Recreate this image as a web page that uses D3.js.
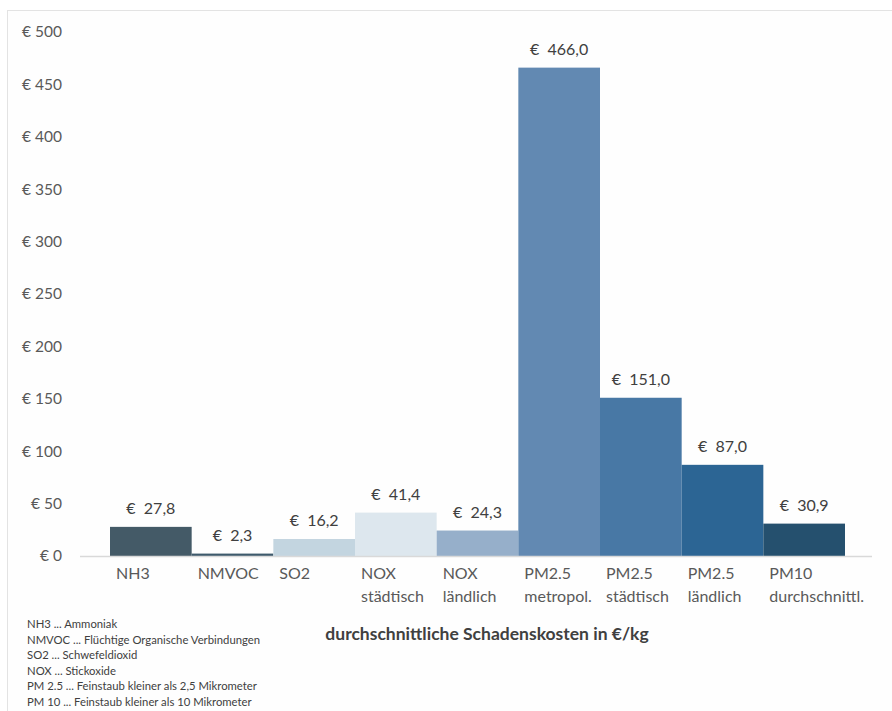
<!DOCTYPE html>
<html><head><meta charset="utf-8">
<script src="https://cdn.jsdelivr.net/npm/d3@7"></script>
<style>body{margin:0;background:#fff;} svg{display:block;font-family:Lato,"Open Sans",sans-serif;}</style>
</head><body>
<svg id="c" width="892" height="711"></svg>
<script>
const categories = [["NH3"],["NMVOC"],["SO2"],["NOX","städtisch"],["NOX","ländlich"],["PM2.5","metropol."],["PM2.5","städtisch"],["PM2.5","ländlich"],["PM10","durchschnittl."]];
const values = [27.8, 2.3, 16.2, 41.4, 24.3, 466.0, 151.0, 87.0, 30.9];
const colors = ["#445a67","#3e5a6c","#c3d5e0","#dde7ee","#96afca","#6289b2","#4878a5","#2c6594","#25506e"];
const yTicks = [0,50,100,150,200,250,300,350,400,450,500];
const footnotes = ["NH3 ... Ammoniak","NMVOC ... Flüchtige Organische Verbindungen","SO2 ... Schwefeldioxid","NOX ... Stickoxide","PM 2.5 ... Feinstaub kleiner als 2,5 Mikrometer","PM 10 ... Feinstaub kleiner als 10 Mikrometer"];
const title = "durchschnittliche Schadenskosten in €/kg";

const svg = d3.select("#c");
svg.append("rect").attr("x",7.5).attr("y",10.5).attr("width",892).attr("height",711).attr("fill","#fefefe").attr("stroke","#e3e3e3");

const idx = categories.map((d,i)=>i);
const x = d3.scaleBand().domain(idx).range([110,845]).padding(0);
const y = d3.scaleLinear().domain([0,500]).range([556,32]);

// y axis labels
const fmtY = d => "€ " + d;
svg.append("g").selectAll("text").data(yTicks).join("text")
  .attr("x",62).attr("y",d=>y(d)).attr("dy","0.35em")
  .attr("text-anchor","end").attr("font-size",15.5).attr("fill","#595959")
  .text(fmtY);

// bars
svg.append("g").selectAll("rect").data(values).join("rect")
  .attr("x",(d,i)=>x(i)).attr("width",x.bandwidth())
  .attr("y",d=>y(d)).attr("height",d=>y(0)-y(d))
  .attr("fill",(d,i)=>colors[i]);

// axis line
svg.append("line").attr("x1",80).attr("x2",872).attr("y1",y(0)+0.5).attr("y2",y(0)+0.5)
  .attr("stroke","#d9d9d9").attr("stroke-width",1.5);

// value labels
const fmtV = d => "€\u00a0\u00a0" + d.toFixed(1).replace(".",",");
svg.append("g").selectAll("text").data(values).join("text")
  .attr("x",(d,i)=>x(i)+x.bandwidth()/2).attr("y",d=>y(d)-13)
  .attr("text-anchor","middle").attr("font-size",16).attr("fill","#404040")
  .text(fmtV);

// category labels
const cg = svg.append("g").selectAll("text").data(categories).join("text")
  .attr("x",(d,i)=>x(i)+6).attr("y",579).attr("font-size",16).attr("fill","#595959");
cg.selectAll("tspan").data(d=>d).join("tspan")
  .attr("x",function(){return d3.select(this.parentNode).attr("x");})
  .attr("dy",(d,j)=>j?23:0).text(d=>d);

// title
svg.append("text").attr("x",487).attr("y",640).attr("text-anchor","middle")
  .attr("font-size",17.5).attr("font-weight","bold").attr("fill","#404040").text(title);

// footnotes
svg.append("g").selectAll("text").data(footnotes).join("text")
  .attr("x",27).attr("y",(d,i)=>628+i*15.6).attr("font-size",11.3).attr("fill","#404040")
  .text(d=>d);
</script>
</body></html>
